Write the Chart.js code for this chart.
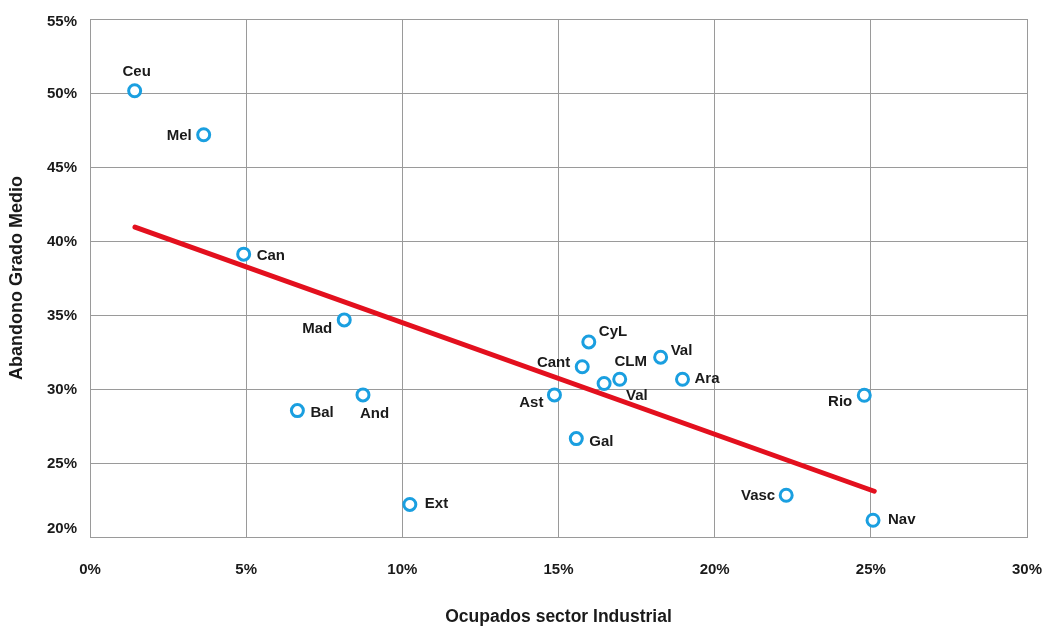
<!DOCTYPE html>
<html>
<head>
<meta charset="utf-8">
<script src="https://cdn.jsdelivr.net/npm/chart.js@4"></script>
<style>
  html, body { margin: 0; padding: 0; background: #fff; }
  #wrap { width: 1046px; height: 626px; }
</style>
</head>
<body>
<div id="wrap"><canvas id="chart" width="1046" height="626"></canvas></div>
<script>
// regions
const regions = ["Ceu", "Mel", "Can", "Mad", "And", "Bal", "Ext", "CyL", "Cant", "Val",
  "CLM", "Val", "Ara", "Ast", "Gal", "Vasc", "Nav", "Rio"];
// ocupados sector industrial (%)
const industria = [1.43, 3.64, 4.92, 8.14, 8.74, 6.64, 10.24, 15.97, 15.76, 16.46,
  16.96, 18.27, 18.97, 14.87, 15.57, 22.29, 25.07, 24.79];
// abandono grado medio (%)
const abandono = [50.15, 47.18, 39.11, 34.67, 29.6, 28.54, 22.2, 33.18, 31.5, 30.37,
  30.66, 32.15, 30.66, 29.6, 26.65, 22.82, 21.13, 29.58];
// trend line ends
const trendX = [1.44, 25.11];
const trendY = [40.94, 23.09];
const xTicks = ["0%", "5%", "10%", "15%", "20%", "25%", "30%"];
const yTicks = ["20%", "25%", "30%", "35%", "40%", "45%", "50%", "55%"];

// where each label sits relative to its point: [dx, dy, align]
const labelPlace = [
  [2, -19, "center"], [-12, 1, "right"], [13, 2, "left"], [-12, 9, "right"],
  [-3, 19, "left"], [13, 2, "left"], [15, -1, "left"], [10, -10, "left"],
  [-12, -4, "right"], [22, 12, "left"], [11, -17, "center"], [10, -6, "left"],
  [12, 0, "left"], [-11, 8, "right"], [13, 3, "left"], [-11, 1, "right"],
  [15, 0, "left"], [-12, 7, "right"]
];

const TEXT = "#1a1a1a";
const FONT = "'Liberation Sans', Arial, Helvetica, sans-serif";

const pointLabels = {
  id: "pointLabels",
  afterDatasetsDraw(chart) {
    const meta = chart.getDatasetMeta(1);
    const ctx = chart.ctx;
    ctx.save();
    ctx.font = "bold 15px " + FONT;
    ctx.fillStyle = TEXT;
    ctx.textBaseline = "middle";
    meta.data.forEach((pt, i) => {
      const p = labelPlace[i];
      ctx.textAlign = p[2];
      ctx.fillText(regions[i], pt.x + p[0], pt.y + p[1]);
    });
    ctx.restore();
  }
};

// y tick labels, kept inside the plot box at both ends
const yLabels = {
  id: "yLabels",
  afterDraw(chart) {
    const y = chart.scales.y;
    const ctx = chart.ctx;
    const area = chart.chartArea;
    ctx.save();
    ctx.font = "bold 15px " + FONT;
    ctx.fillStyle = TEXT;
    ctx.textAlign = "right";
    ctx.textBaseline = "middle";
    y.ticks.forEach((t, i) => {
      let py = y.getPixelForValue(t.value) + 1;
      py = Math.min(Math.max(py, area.top + 3), area.bottom - 8);
      ctx.fillText(yTicks[i], area.left - 13, py);
    });
    ctx.restore();
  }
};

new Chart(document.getElementById("chart"), {
  type: "scatter",
  data: {
    datasets: [
      {
        type: "line",
        label: "Tendencia",
        data: trendX.map((x, i) => ({ x, y: trendY[i] })),
        borderColor: "#e3101e",
        borderWidth: 5,
        borderCapStyle: "round",
        pointRadius: 0,
        fill: false,
        order: 2
      },
      {
        label: "CCAA",
        data: industria.map((x, i) => ({ x, y: abandono[i] })),
        pointStyle: "circle",
        pointRadius: 6,
        pointBorderWidth: 3,
        pointBackgroundColor: "#ffffff",
        pointBorderColor: "#1a9fe0",
        order: 1
      }
    ]
  },
  options: {
    responsive: false,
    animation: false,
    layout: { padding: { top: 19, right: 19, left: 0, bottom: 0 } },
    plugins: {
      legend: { display: false },
      tooltip: { enabled: false }
    },
    scales: {
      x: {
        type: "linear",
        min: 0,
        max: 30,
        ticks: {
          stepSize: 5,
          padding: 24,
          color: TEXT,
          font: { family: FONT, size: 15, weight: "bold" },
          callback: (v) => xTicks[Math.round(v / 5)]
        },
        grid: { color: "#9a9a9a", lineWidth: 1, drawTicks: false },
        border: { color: "#9a9a9a" },
        title: {
          display: true,
          text: "Ocupados sector Industrial",
          color: TEXT,
          font: { family: FONT, size: 17.5, weight: "bold", lineHeight: 1 },
          padding: { top: 0, bottom: 0 }
        },
        afterFit: (s) => {
          s.height = 89;
          s.paddingLeft = 0;
          s.paddingRight = 0;
        }
      },
      y: {
        type: "linear",
        min: 20,
        max: 55,
        ticks: {
          stepSize: 5,
          display: false
        },
        grid: { color: "#9a9a9a", lineWidth: 1, drawTicks: false },
        border: { color: "#9a9a9a" },
        title: {
          display: true,
          text: "Abandono Grado Medio",
          color: TEXT,
          font: { family: FONT, size: 18, weight: "bold", lineHeight: 1 },
          padding: { top: 8, bottom: 0 }
        },
        afterFit: (s) => { s.width = 90; }
      }
    }
  },
  plugins: [pointLabels, yLabels]
});
</script>
</body>
</html>
